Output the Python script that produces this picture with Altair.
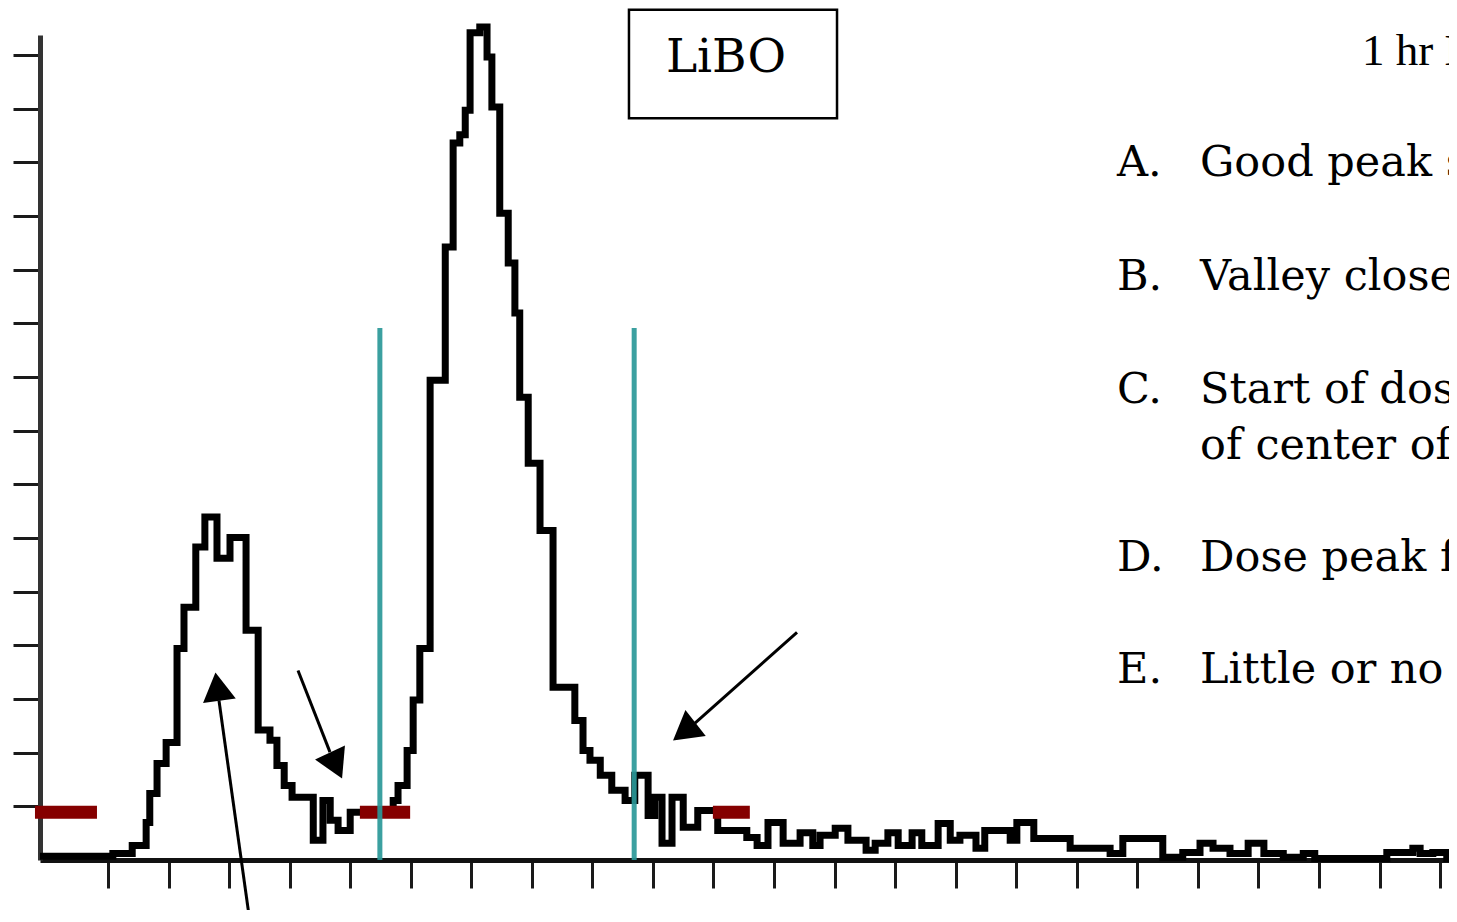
import altair as alt
import pandas as pd

# ---- glow curve (step histogram): channel breakpoints and counts ----
channel = [-1.23, 10.8, 14.0, 16.3, 16.9, 18.1, 19.6, 21.4, 22.55, 24.5,
           26.0, 28.0, 30.15, 32.8, 34.8, 36.75, 37.9, 39.1, 40.4, 43.9,
           45.5, 46.7, 48.0, 50.0, 57.1, 57.9, 59.4, 60.4, 61.5, 63.2,
           65.7, 67.0, 68.1, 69.0, 69.8, 71.4, 72.6, 73.4, 74.7, 76.1,
           77.2, 78.0, 79.4, 81.35, 83.5, 87.1, 88.45, 89.6, 91.3, 93.2,
           95.4, 97.0, 99.2, 100.3, 101.5, 103.15, 105.0, 107.4, 110.7, 115.5,
           117.2, 119.0, 121.5, 124.3, 126.4, 127.6, 130.1, 132.2, 135.2, 136.7,
           138.8, 140.5, 142.8, 144.4, 147.1, 149.1, 150.7, 153.35, 154.8, 159.0,
           160.1, 162.9, 168.9, 175.5, 177.6, 184.2, 187.5, 190.35, 192.5, 195.3,
           198.3, 200.9, 204.1, 207.4, 209.3, 221.2, 225.5, 226.7, 228.8, 231.1,
           232.8]
counts = [7, 12, 27, 70, 124, 180, 219, 394, 471, 583,
          639, 562, 601, 428, 242, 223, 176, 139, 117, 37,
          111, 74, 55, 89, 111, 139, 204, 298, 394, 894,
          1142, 1336, 1351, 1397, 1541, 1552, 1496, 1403, 1205, 1112,
          1019, 862, 739, 614, 322, 260, 204, 186, 158, 130,
          111, 158, 83, 117, 31, 117, 61, 92, 55, 42,
          27, 70, 31, 51, 27, 46, 59, 37, 18, 31,
          51, 27, 51, 27, 68, 37, 46, 22, 55, 37,
          70, 40, 22, 12, 40, 5, 14, 31, 22, 12,
          31, 12, 5, 12, 3, 14, 22, 12, 14, 3,
          3]

# axis ticks
x_ticks = list(range(10, 231, 10))
y_ticks = list(range(100, 1501, 100))

# region-of-interest window (teal lines)
window_ch = [54.9, 96.9]
window_top = [991, 991]

# threshold markers (dark red dashes)
marker_start = [-2.06, 51.6, 109.9]
marker_end = [8.18, 59.9, 116.0]
marker_level = [89, 89, 89]

# annotation arrows
arrow_x = [33.45, 41.38, 123.79]
arrow_y = [-116, 353, 424]
arrow_x2 = [28.33, 46.66, 106.94]
arrow_y2 = [297, 201, 255]
head_x = [28.07, 47.66, 105.18]
head_y = [323, 176, 239]
head_angle = [352, 155, 232]

# LiBO label box
box_x, box_x2 = [96.04], [130.4]
box_y, box_y2 = [1584], [1382]
box_label = ["LiBO"]
box_label_x, box_label_y = [112.06], [1468]

# header and list texts
header_text = ["1 hr Delay"]
header_x, header_y = [217.1], [1481]
letters = ["A.", "B.", "C.", "D.", "E."]
letter_x = [176.64] * 5
letter_y = [1274, 1062, 851, 538, 329]
items = ["Good peak separation", "Valley close to baseline",
         "Start of dose peak within", "of center of valley",
         "Dose peak fully resolved", "Little or no fading"]
item_x = [190.35] * 6
item_y = [1274, 1062, 851, 748, 538, 329]

xs = alt.Scale(domain=[-1.23, 231.47], nice=False, zero=False)
ys = alt.Scale(domain=[0, 1537], nice=False, zero=False)
xa = alt.Axis(values=x_ticks, labels=False, title=None, grid=False,
              tickSize=28, tickWidth=3, tickColor="#1a1a1a",
              domainWidth=5, domainColor="#111111")
ya = alt.Axis(values=y_ticks, labels=False, title=None, grid=False,
              tickSize=27, tickWidth=3, tickColor="#1a1a1a",
              domainWidth=5, domainColor="#333333")


def X(f):
    return alt.X(f, scale=xs, axis=xa, title=None)


def Y(f):
    return alt.Y(f, scale=ys, axis=ya, title=None)


curve_df = pd.DataFrame({"x": channel, "y": counts})
curve = alt.Chart(curve_df).mark_line(
    interpolate="step-after", color="black", strokeWidth=7,
    strokeJoin="miter", clip=False
).encode(x=X("x:Q"), y=Y("y:Q"), order="x:Q")

marker_df = pd.DataFrame({"x": marker_start, "x2": marker_end, "y": marker_level})
markers = alt.Chart(marker_df).mark_rule(
    color="#850000", strokeWidth=13, strokeCap="butt"
).encode(x=X("x:Q"), x2="x2:Q", y=Y("y:Q"))

window_df = pd.DataFrame({"x": window_ch, "y": window_top, "y2": [0, 0]})
window = alt.Chart(window_df).mark_rule(
    color="#2a9898", strokeWidth=5, opacity=0.92
).encode(x=X("x:Q"), y=Y("y:Q"), y2="y2:Q")

arrow_df = pd.DataFrame({"x": arrow_x, "y": arrow_y, "x2": arrow_x2, "y2": arrow_y2})
arrows = alt.Chart(arrow_df).mark_rule(color="black", strokeWidth=3).encode(
    x=X("x:Q"), x2="x2:Q", y=Y("y:Q"), y2="y2:Q")

head_df = pd.DataFrame({"x": head_x, "y": head_y, "a": head_angle})
heads = alt.Chart(head_df).mark_point(
    shape="triangle-up", filled=True, color="black", opacity=1, size=1089
).encode(x=X("x:Q"), y=Y("y:Q"), angle=alt.Angle("a:Q", scale=None))

box_df = pd.DataFrame({"x": box_x, "x2": box_x2, "y": box_y, "y2": box_y2})
box = alt.Chart(box_df).mark_rect(
    fillOpacity=0, stroke="black", strokeWidth=2.5
).encode(x=X("x:Q"), x2="x2:Q", y=Y("y:Q"), y2="y2:Q")

box_text_df = pd.DataFrame({"x": box_label_x, "y": box_label_y, "t": box_label})
box_text = alt.Chart(box_text_df).mark_text(
    align="center", baseline="alphabetic", font="DejaVu Serif",
    fontSize=47, color="black"
).encode(x=X("x:Q"), y=Y("y:Q"), text="t:N")

header_df = pd.DataFrame({"x": header_x, "y": header_y, "t": header_text})
header = alt.Chart(header_df).mark_text(
    align="left", baseline="alphabetic", font="Liberation Serif",
    fontSize=45, color="black"
).encode(x=X("x:Q"), y=Y("y:Q"), text="t:N")

letter_df = pd.DataFrame({"x": letter_x, "y": letter_y, "t": letters})
letter_text = alt.Chart(letter_df).mark_text(
    align="left", baseline="alphabetic", font="DejaVu Serif",
    fontSize=43, color="black"
).encode(x=X("x:Q"), y=Y("y:Q"), text="t:N")

item_df = pd.DataFrame({"x": item_x, "y": item_y, "t": items})
item_text = alt.Chart(item_df).mark_text(
    align="left", baseline="alphabetic", font="DejaVu Serif",
    fontSize=43, color="black"
).encode(x=X("x:Q"), y=Y("y:Q"), text="t:N")

chart = alt.layer(
    curve, markers, window, arrows, heads, box, box_text,
    header, letter_text, item_text
).properties(
    width=1409, height=825,
    padding={"left": 32, "top": 27, "right": 0, "bottom": 50},
    autosize=alt.AutoSizeParams(type="none"),
    background="white",
).configure_view(stroke=None)

chart.save("out.html", embed_options={"renderer": "svg", "actions": False})
